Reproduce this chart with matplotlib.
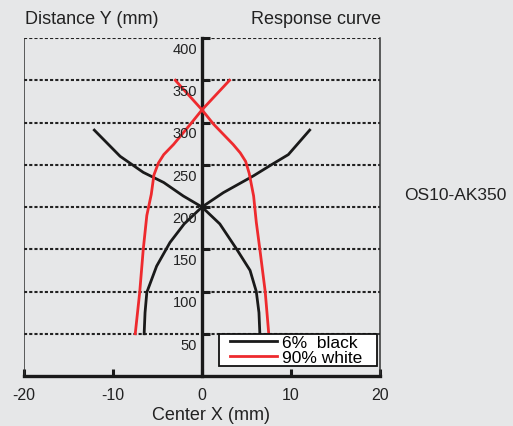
import matplotlib
matplotlib.use("Agg")
import matplotlib.pyplot as plt
from matplotlib.transforms import offset_copy
from matplotlib.legend_handler import HandlerLine2D
from matplotlib.lines import Line2D

plt.rcParams['font.family'] = ['Liberation Sans', 'DejaVu Sans']
plt.rcParams['axes.unicode_minus'] = False

# Data
black_a_x = [-12.1, -9.2, -6.6, -4.3, -2.1, 0, 2.0, 3.9, 5.4, 6.1, 6.4, 6.5]
black_a_y = [291, 260, 241, 229, 213, 200, 180, 150, 125, 100, 75, 50]
black_b_x = [12.1, 9.7, 7.8, 5.8, 2.4, 0, -2.0, -3.6, -5.1, -6.2, -6.4, -6.5]
black_b_y = [291, 262, 250, 237, 217, 200, 180, 158, 130, 99, 75, 50]
red_a_x = [-3.0, 0, 1.3, 3.5, 4.3, 4.9, 5.3, 5.8, 6.1, 6.5, 7.1, 7.5]
red_a_y = [350, 315, 298, 274, 264, 254, 240, 213, 182, 150, 100, 50]
red_b_x = [3.1, 0, -1.3, -3.2, -4.3, -4.9, -5.4, -5.7, -6.2, -6.6, -7.0, -7.5]
red_b_y = [350, 315, 298, 274, 262, 252, 238, 215, 190, 150, 99, 50]
x_ticks = [-20, -10, 0, 10, 20]
y_ticks = [50, 100, 150, 200, 250, 300, 350, 400]
labels = ["6%  black", "90% white"]

bg = '#e6e7e8'
W, H = 513, 427
fig = plt.figure(figsize=(W / 100, H / 100), dpi=100, facecolor=bg)
ax = fig.add_axes([24 / W, 1 - 377 / H, (380 - 24) / W, (377 - 39) / H], facecolor=bg)
ax.set_xlim(-20, 20)
ax.set_ylim(0, 400)

# grid lines
for yv in y_ticks:
    ax.axhline(yv, color='#222222', lw=1.5, ls=(0, (1.5, 1)), zorder=1)

# outer thin boundaries
ax.axvline(-20, color='#333333', lw=1.1, zorder=2)
ax.spines['right'].set_color('#333333')
ax.spines['right'].set_linewidth(1.1)
ax.spines['top'].set_visible(False)

# center axis
ax.spines['left'].set_position(('data', 0))
ax.spines['left'].set_linewidth(2.4)
ax.spines['left'].set_color('#1a1a1a')
ax.spines['left'].set_zorder(3)
ax.spines['bottom'].set_linewidth(2.4)
ax.spines['bottom'].set_color('#1a1a1a')

ax.set_xticks(x_ticks)
ax.set_xticklabels([str(v) for v in x_ticks])
ax.set_yticks(y_ticks)
ax.set_yticklabels([])
ax.tick_params(axis='x', direction='in', length=5, width=2.2, color='#1a1a1a',
               labelsize=11.5, pad=8, labelcolor='#222222')
ax.tick_params(axis='y', direction='in', length=6, width=2.2, color='#1a1a1a')

# y labels placed just beneath each grid line, left of the center axis
lab_tr = offset_copy(ax.transData, fig=fig, x=-5, y=-11, units='dots')
for yv in y_ticks:
    ax.text(0, yv, str(yv), transform=lab_tr, ha='right', va='center',
            fontsize=10.5, color='#222222', zorder=6)

# curves
ax.plot(black_a_x, black_a_y, color='#1a1a1a', lw=2.0, label=labels[0], zorder=4,
        solid_joinstyle='round')
ax.plot(black_b_x, black_b_y, color='#1a1a1a', lw=2.0, zorder=4, solid_joinstyle='round')
ax.plot(red_a_x, red_a_y, color='#ee2a2e', lw=2.0, label=labels[1], zorder=4,
        solid_joinstyle='round')
ax.plot(red_b_x, red_b_y, color='#ee2a2e', lw=2.0, zorder=4, solid_joinstyle='round')

leg = ax.legend(loc='upper left', bbox_to_anchor=(1.9, 12, 17.8, 38),
                bbox_transform=ax.transData, mode='expand', borderaxespad=0,
                fancybox=False, framealpha=1, edgecolor='#111111', facecolor='white',
                fontsize=12.5, handlelength=3.3, handletextpad=0.3, borderpad=0.05,
                labelspacing=0.0,
                handler_map={Line2D: HandlerLine2D(xpad=0.6)})
leg.get_frame().set_linewidth(1.3)
leg.set_zorder(5)

# texts
fig.text(25 / W, 1 - 19 / H, 'Distance Y (mm)', fontsize=13, va='center', ha='left',
         color='#222222')
fig.text(381 / W, 1 - 19 / H, 'Response curve', fontsize=13, va='center', ha='right',
         color='#222222')
fig.text(404 / W, 1 - 195 / H, 'OS10-AK350', fontsize=12.5, va='center', ha='left',
         color='#222222')
fig.text(211 / W, 1 - 416 / H, 'Center X (mm)', fontsize=13, va='center', ha='center',
         color='#222222')

fig.savefig('out.png', dpi=100, facecolor=bg)
